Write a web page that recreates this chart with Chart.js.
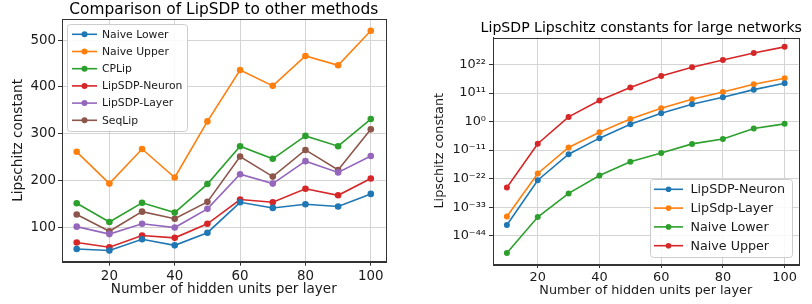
<!DOCTYPE html>
<html>
<head>
<meta charset="utf-8">
<script src="https://cdn.jsdelivr.net/npm/chart.js@4.4.1/dist/chart.umd.min.js"></script>
<style>
  html, body { margin: 0; padding: 0; background: #fff; }
  #wrap { position: relative; width: 812px; height: 304px; }
  #left { position: absolute; left: 0; top: 0; }
  #right { position: absolute; left: 400px; top: 0; }
</style>
</head>
<body>
<div id="wrap">
  <canvas id="left" width="400" height="304"></canvas>
  <canvas id="right" width="412" height="304"></canvas>
</div>
<script>
// hidden units per layer (shared x values)
const hiddenUnits = [10, 20, 30, 40, 50, 60, 70, 80, 90, 100];
const xTicks = [20, 40, 60, 80, 100];

// left: comparison of LipSDP to other methods
const naiveLower   = [53, 50, 74, 61, 88, 153, 141, 149, 144, 171];
const naiveUpper   = [261, 193, 267, 206, 326, 436, 402, 466, 446, 520];
const cpLip        = [151, 111, 152, 131, 192, 273, 246, 295, 273, 331];
const lipNeuron    = [67, 57, 82, 77, 107, 159, 153, 182, 168, 204];
const lipLayer     = [101, 85, 107, 99, 139, 213, 193, 241, 217, 252];
const seqLip       = [127, 91, 133, 118, 154, 251, 208, 265, 222, 309];
const leftYTicks   = [100, 200, 300, 400, 500];

// right: LipSDP Lipschitz constants for large networks
const bigNeuron = [1.3e-40, 2.5e-23, 2.5e-13, 4e-7, 0.1, 1.6e3, 5e6, 2.5e9, 2e12, 6.3e14];
const bigLayer  = [2.5e-37, 1e-20, 1e-10, 8e-5, 10, 1.3e5, 4e8, 2.5e11, 2.5e14, 5e16];
const bigLower  = [2e-51, 1.6e-37, 2e-28, 1.6e-21, 3e-16, 8e-13, 2.5e-9, 2e-7, 2e-3, 0.13];
const bigUpper  = [4e-26, 3e-9, 63, 1.3e8, 1.3e13, 4e17, 8e20, 5e23, 2.5e26, 6.3e28];
const rightYExp = [-44, -33, -22, -11, 0, 11, 22];

const C = {
  blue: '#1f77b4', orange: '#ff7f0e', green: '#2ca02c',
  red: '#d62728', purple: '#9467bd', brown: '#8c564b'
};
const FONT = "'DejaVu Sans', sans-serif";
const GRID = '#d4d4d4';
const SPINE = '#333333';

function points(vals) {
  return hiddenUnits.map((u, i) => ({ x: u, y: vals[i] }));
}

function line(label, vals, color, radius) {
  return {
    label: label,
    data: points(vals),
    borderColor: color,
    backgroundColor: color,
    borderWidth: 1.6,
    pointRadius: radius,
    pointBorderWidth: 0,
    pointBackgroundColor: color,
    tension: 0
  };
}

const superDigits = { '0': '⁰', '1': '¹', '2': '²', '3': '³', '4': '⁴', '5': '⁵', '6': '⁶', '7': '⁷', '8': '⁸', '9': '⁹', '-': '⁻' };
function powLabel(v) {
  const e = Math.round(Math.log10(v));
  return '10' + String(e).split('').map(c => superDigits[c]).join('');
}

// frame round the plot area, like matplotlib spines
const framePlugin = {
  id: 'frame',
  afterDraw(chart) {
    const { ctx, chartArea: a } = chart;
    ctx.save();
    ctx.strokeStyle = SPINE;
    ctx.lineWidth = 1;
    ctx.strokeRect(Math.round(a.left) + 0.5, Math.round(a.top) + 0.5,
                   Math.round(a.right - a.left), Math.round(a.bottom - a.top));
    ctx.restore();
  }
};

// title centred over the plot area
const axTitlePlugin = {
  id: 'axTitle',
  afterDraw(chart, args, opts) {
    const { ctx, chartArea: a } = chart;
    ctx.save();
    ctx.font = opts.size + 'px ' + FONT;
    ctx.fillStyle = '#000';
    ctx.textAlign = 'center';
    ctx.textBaseline = 'alphabetic';
    ctx.fillText(opts.text, (a.left + a.right) / 2 + (opts.dx || 0), opts.y);
    ctx.restore();
  }
};

// matplotlib style legend box: line + marker handles
const boxLegendPlugin = {
  id: 'boxLegend',
  afterDatasetsDraw(chart, args, opts) {
    const ctx = chart.ctx;
    ctx.save();
    ctx.beginPath();
    ctx.roundRect(opts.x + 0.5, opts.y + 0.5, opts.w, opts.h, 3);
    ctx.fillStyle = 'rgba(255,255,255,0.85)';
    ctx.fill();
    ctx.strokeStyle = '#cccccc';
    ctx.lineWidth = 1;
    ctx.stroke();
    ctx.font = opts.size + 'px ' + FONT;
    ctx.textBaseline = 'middle';
    ctx.textAlign = 'left';
    chart.data.datasets.forEach((ds, i) => {
      const y = opts.rowY + i * opts.step;
      ctx.strokeStyle = ds.borderColor;
      ctx.lineWidth = 1.6;
      ctx.beginPath();
      ctx.moveTo(opts.hx0, y);
      ctx.lineTo(opts.hx1, y);
      ctx.stroke();
      ctx.fillStyle = ds.borderColor;
      ctx.beginPath();
      ctx.arc((opts.hx0 + opts.hx1) / 2, y, opts.r, 0, Math.PI * 2);
      ctx.fill();
      ctx.fillStyle = '#1a1a1a';
      ctx.fillText(ds.label, opts.tx, y + 0.5);
    });
    ctx.restore();
  }
};

function axisStyle(size) {
  return {
    grid: { color: GRID, lineWidth: 1, tickLength: 4, tickColor: SPINE, tickWidth: 1 },
    border: { color: SPINE, width: 1 },
    ticks: { color: '#1a1a1a', font: { family: FONT, size: size } }
  };
}

// ---------- left chart ----------
const lx = axisStyle(13.4);
const ly = axisStyle(13.4);
new Chart(document.getElementById('left'), {
  type: 'line',
  data: {
    datasets: [
      line('Naive Lower', naiveLower, C.blue, 3.3),
      line('Naive Upper', naiveUpper, C.orange, 3.3),
      line('CPLip', cpLip, C.green, 3.3),
      line('LipSDP-Neuron', lipNeuron, C.red, 3.3),
      line('LipSDP-Layer', lipLayer, C.purple, 3.3),
      line('SeqLip', seqLip, C.brown, 3.3)
    ]
  },
  options: {
    responsive: false,
    animation: false,
    layout: { padding: { top: 19, right: 14.5, bottom: 0, left: 0 } },
    plugins: {
      legend: { display: false },
      tooltip: { enabled: false },
      axTitle: { text: 'Comparison of LipSDP to other methods', size: 15.4, y: 13.5 },
      boxLegend: { x: 67, y: 24, w: 120, h: 107, rowY: 34.3, step: 17.2, hx0: 72, hx1: 97, r: 3, tx: 102, size: 10.8 }
    },
    scales: {
      x: Object.assign(lx, {
        type: 'linear', min: 5.5, max: 104.5,
        afterBuildTicks: s => { s.ticks = xTicks.map(v => ({ value: v })); },
        afterFit: s => { s.height = 42.3; },
        ticks: Object.assign(lx.ticks, { padding: 3 }),
        title: { display: true, text: 'Number of hidden units per layer', color: '#1a1a1a',
                 font: { family: FONT, size: 13.6 }, padding: { top: 0, bottom: 6 } }
      }),
      y: Object.assign(ly, {
        type: 'linear', min: 26, max: 545,
        afterBuildTicks: s => { s.ticks = leftYTicks.map(v => ({ value: v })); },
        afterFit: s => { s.width = 62; },
        ticks: Object.assign(ly.ticks, { padding: 2 }),
        title: { display: true, text: 'Lipschitz constant', color: '#1a1a1a',
                 font: { family: FONT, size: 13.6 }, padding: { top: 10, bottom: 0 } }
      })
    }
  },
  plugins: [framePlugin, axTitlePlugin, boxLegendPlugin]
});

// ---------- right chart ----------
const rx = axisStyle(12.9);
const ry = axisStyle(12.9);
new Chart(document.getElementById('right'), {
  type: 'line',
  data: {
    datasets: [
      line('LipSDP-Neuron', bigNeuron, C.blue, 3),
      line('LipSdp-Layer', bigLayer, C.orange, 3),
      line('Naive Lower', bigLower, C.green, 3),
      line('Naive Upper', bigUpper, C.red, 3)
    ]
  },
  options: {
    responsive: false,
    animation: false,
    layout: { padding: { top: 37.5, right: 13.5, bottom: 0, left: 0 } },
    plugins: {
      legend: { display: false },
      tooltip: { enabled: false },
      axTitle: { text: 'LipSDP Lipschitz constants for large networks', size: 14.1, y: 31.7, dx: -4.5 },
      boxLegend: { x: 250, y: 179, w: 142, h: 78, rowY: 189.3, step: 18.8, hx0: 254, hx1: 283, r: 2.8, tx: 290.5, size: 12.7 }
    },
    scales: {
      x: Object.assign(rx, {
        type: 'linear', min: 5.5, max: 104.5,
        afterBuildTicks: s => { s.ticks = xTicks.map(v => ({ value: v })); },
        afterFit: s => { s.height = 40; },
        ticks: Object.assign(rx.ticks, { padding: 2 }),
        title: { display: true, text: 'Number of hidden units per layer', color: '#1a1a1a',
                 font: { family: FONT, size: 12.8 }, padding: { top: 0, bottom: 5.3 } }
      }),
      y: Object.assign(ry, {
        type: 'logarithmic', min: Math.pow(10, -54.9), max: Math.pow(10, 32.4),
        afterBuildTicks: s => { s.ticks = rightYExp.map(e => ({ value: Math.pow(10, e) })); },
        afterFit: s => { s.width = 93; },
        ticks: Object.assign(ry.ticks, { padding: 3, callback: v => powLabel(v) }),
        title: { display: true, text: 'Lipschitz constant', color: '#1a1a1a',
                 font: { family: FONT, size: 12.8 }, padding: { top: 32, bottom: 0 } }
      })
    }
  },
  plugins: [framePlugin, axTitlePlugin, boxLegendPlugin]
});
</script>
</body>
</html>
